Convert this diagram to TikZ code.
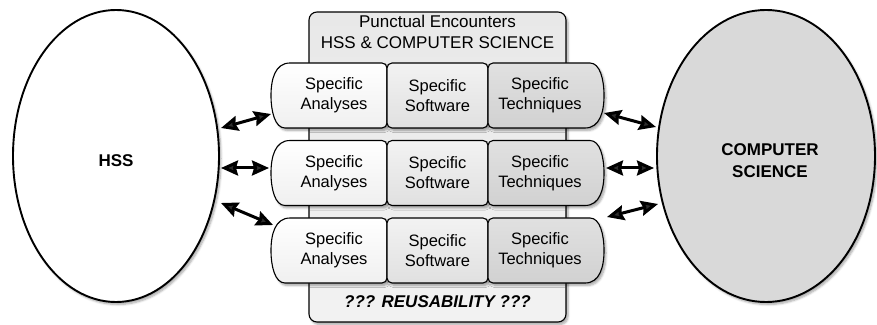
\documentclass[tikz,border=0pt]{standalone}
\usepackage{fontspec}
\setmainfont{Liberation Sans}
\usetikzlibrary{arrows.meta,shadows.blur,shapes.geometric}
\begin{document}
\begin{tikzpicture}[x=1pt,y=1pt,
  txt/.style={font=\fontsize{16.5}{20}\selectfont, align=center, inner sep=0pt},
  ttl/.style={font=\fontsize{17}{20.5}\selectfont, align=center, inner sep=0pt},
  big/.style={font=\fontsize{17}{22}\selectfont\bfseries, align=center, inner sep=0pt},
  shad/.style={blur shadow={shadow xshift=2pt, shadow yshift=-2.5pt, shadow blur steps=6, shadow opacity=35}},
  oval/.style={draw, ellipse, line width=1.9pt, inner sep=0pt, shad},
  cellL/.style={draw, line width=1.1pt, top color=white, bottom color=black!6},
  cellM/.style={draw, line width=1.1pt, top color=black!5, bottom color=black!12},
  cellR/.style={draw, line width=1.1pt, top color=black!12, bottom color=black!18},
  arr/.style={line width=3pt, {Stealth[length=17pt 0,width=15pt 0,inset=2pt]}-{Stealth[length=17pt 0,width=15pt 0,inset=2pt]}}]
\useasboundingbox (0,0) rectangle (877,324);

% ellipses
\node[oval, fill=white, minimum width=206pt, minimum height=292pt] (hss) at (116,168) {};
\node[oval, fill=black!15, minimum width=218pt, minimum height=292pt] (cs) at (766,168) {};
\node[big] (hsslabel) at (116,163) {HSS};
\node[big] (cslabel) at (770,163) {COMPUTER\\SCIENCE};

% central box
\node[draw, line width=1.1pt, rounded corners=8pt, top color=black!9, bottom color=black!5,
      minimum width=257pt, minimum height=310pt, inner sep=0pt, shad] (box) at (437.5,157) {};
\node[ttl] (title) at (437.5,292) {Punctual Encounters\\HSS \& COMPUTER SCIENCE};
\node[ttl, font=\fontsize{17}{20}\selectfont\bfseries\itshape] (reuse) at (437.5,22) {??? REUSABILITY ???};

% rows of cells
\foreach \c/\i in {228.5/1,151/2,73.5/3}{
  \path[cellL, shad] (290,\c-32.5) .. controls (275,\c-32.5) and (271,\c-16) .. (271,\c)
     .. controls (271,\c+16) and (275,\c+32.5) .. (290,\c+32.5)
     [rounded corners=5pt] -- (387,\c+32.5) -- (387,\c-32.5) -- cycle;
  \path[cellM, shad, rounded corners=5pt] (387,\c-32.5) rectangle (488,\c+32.5);
  \path[cellR, shad] (585,\c+32.5) .. controls (600,\c+32.5) and (604,\c+16) .. (604,\c)
     .. controls (604,\c-16) and (600,\c-32.5) .. (585,\c-32.5)
     [rounded corners=5pt] -- (488,\c-32.5) -- (488,\c+32.5) -- cycle;
  \node[txt] (a\i) at (334,\c) {Specific\\Analyses};
  \node[txt] (s\i) at (437.5,\c) {Specific\\Software};
  \node[txt] (t\i) at (540,\c) {Specific\\Techniques};
}

% arrow end points
\coordinate (hl1) at (221,196);  \coordinate (cl1) at (271,210);
\coordinate (hl2) at (221,156);  \coordinate (cl2) at (269,156);
\coordinate (hl3) at (221,121);  \coordinate (cl3) at (273,99);
\coordinate (cr1) at (604,211);  \coordinate (sr1) at (656,197);
\coordinate (cr2) at (606,156);  \coordinate (sr2) at (654,156);
\coordinate (cr3) at (607,107);  \coordinate (sr3) at (658,120);

\foreach \i in {1,2,3}{
  \draw[arr] (hl\i) -- (cl\i);
  \draw[arr] (cr\i) -- (sr\i);
}
\end{tikzpicture}
\end{document}
